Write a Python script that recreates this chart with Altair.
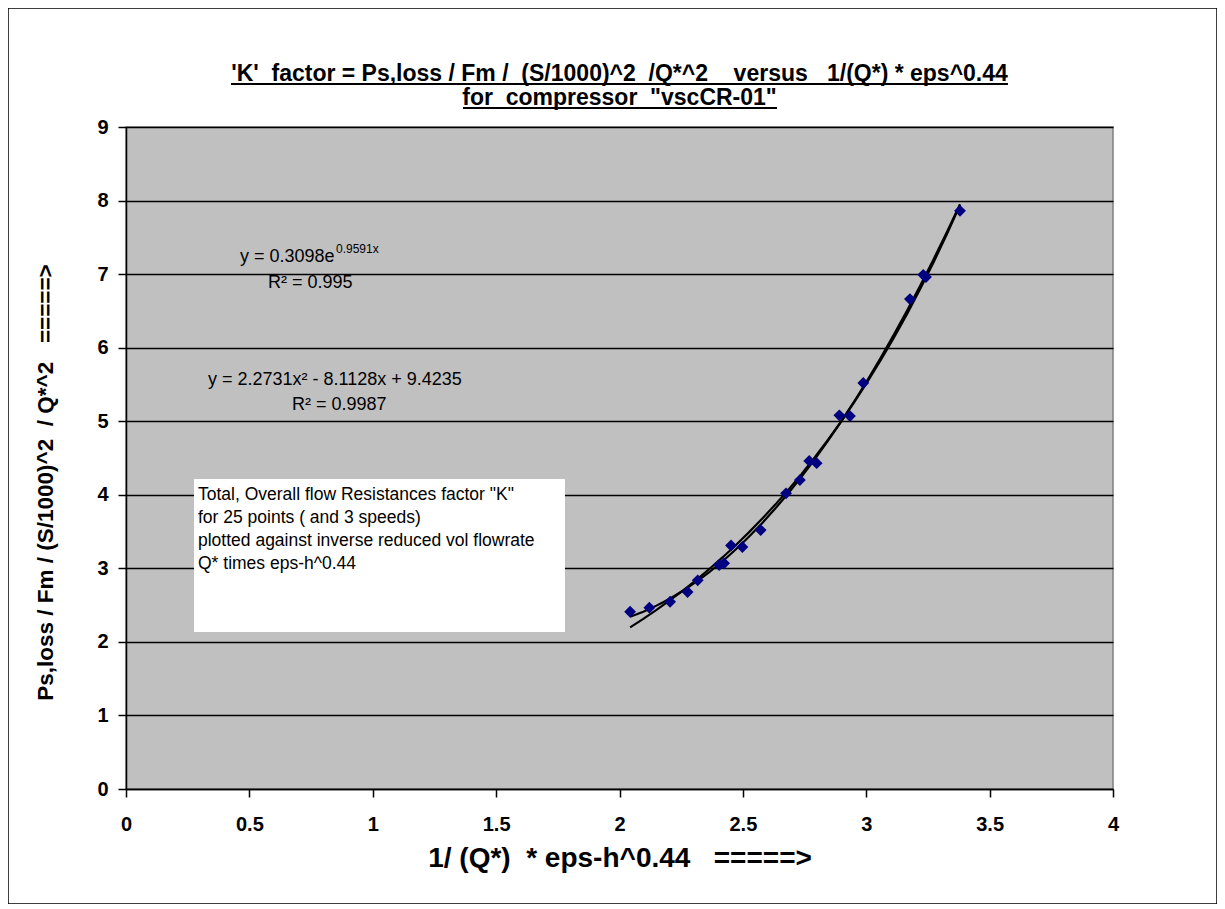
import altair as alt
import pandas as pd

# ---- data ----
k_x = [2.043, 2.121, 2.205, 2.276, 2.317, 2.404, 2.424, 2.452, 2.498, 2.572, 2.675,
       2.731, 2.769, 2.799, 2.891, 2.934, 2.988, 3.177, 3.231, 3.242, 3.380]
k_y = [2.41, 2.465, 2.546, 2.678, 2.837, 3.045, 3.068, 3.31, 3.29, 3.52, 4.02,
       4.20, 4.46, 4.43, 5.08, 5.07, 5.52, 6.66, 6.99, 6.96, 7.86]

x_ticks = [0, 0.5, 1, 1.5, 2, 2.5, 3, 3.5, 4]
y_ticks = [0, 1, 2, 3, 4, 5, 6, 7, 8, 9]

title_lines = ["'K'  factor = Ps,loss / Fm /  (S/1000)^2  /Q*^2    versus   1/(Q*) * eps^0.44",
               'for  compressor  "vscCR-01"']
x_title = "1/ (Q*)  * eps-h^0.44   =====>"
y_title = "Ps,loss / Fm / (S/1000)^2  / Q*^2   =====>"

box_lines = ['Total, Overall flow Resistances factor "K"',
             "for 25 points ( and 3 speeds)",
             "plotted against inverse reduced vol flowrate",
             "Q* times eps-h^0.44"]
# annotation box corners (data units)
box_x = [0.2756, 1.779]
box_y = [4.214, 2.134]

eq_text = ["y = 0.3098e", "R\u00b2 = 0.995", "y = 2.2731x\u00b2 - 8.1128x + 9.4235", "R\u00b2 = 0.9987"]
eq_x = [0.462, 0.5755, 0.332, 0.673]
eq_y = [7.232, 6.879, 5.56, 5.22]
sup_text = ["0.9591x"]

def nb(s):
    return s.replace(" ", "\u00a0")

FONT = "Liberation Sans, Arial, sans-serif"

W, H = 987, 662

df = pd.DataFrame({"x": k_x, "y": k_y})
one = pd.DataFrame({"a": [0]})

xs = alt.Scale(domain=[0, 4], nice=False, zero=False)
ys = alt.Scale(domain=[0, 9], nice=False, zero=False)

base = alt.Chart(df)

points = base.mark_point(shape="diamond", filled=True, color="#000080", size=140, opacity=1).encode(
    x=alt.X("x:Q", scale=xs, title=nb(x_title),
            axis=alt.Axis(values=x_ticks, format="~g", grid=False,
                          titleX=W / 2, titleY=69, titleBaseline="middle", titleAlign="center",
                          titleFontSize=28)),
    y=alt.Y("y:Q", scale=ys, title=nb(y_title),
            axis=alt.Axis(values=y_ticks, format="~g", grid=True,
                          titleX=-81, titleY=355, titleBaseline="middle", titleAlign="center",
                          titleFontSize=22.5)),
)

exp_line = base.transform_regression("x", "y", method="exp").mark_line(
    color="black", strokeWidth=2.2).encode(x=alt.X("x:Q", scale=xs), y=alt.Y("y:Q", scale=ys))
poly_line = base.transform_regression("x", "y", method="poly", order=2).mark_line(
    color="black", strokeWidth=2.2).encode(x=alt.X("x:Q", scale=xs), y=alt.Y("y:Q", scale=ys))

box_df = pd.DataFrame({"x": [box_x[0]], "x2": [box_x[1]], "y": [box_y[0]], "y2": [box_y[1]]})
box = alt.Chart(box_df).mark_rect(fill="white").encode(
    x=alt.X("x:Q", scale=xs), x2="x2", y=alt.Y("y:Q", scale=ys), y2="y2")

box_txt = alt.Chart(pd.DataFrame({"x": [0.2918], "y": [4.12]})).mark_text(
    align="left", baseline="top", font=FONT, fontSize=17.5, lineHeight=23, color="black").encode(
    x=alt.X("x:Q", scale=xs), y=alt.Y("y:Q", scale=ys), text=alt.value(box_lines))

eq_df = pd.DataFrame({"x": eq_x, "y": eq_y, "t": eq_text})
eqs = alt.Chart(eq_df).mark_text(align="left", baseline="middle", font=FONT, fontSize=18,
                                 color="black").encode(
    x=alt.X("x:Q", scale=xs), y=alt.Y("y:Q", scale=ys), text="t:N")

sup_df = pd.DataFrame({"x": [eq_x[0]], "y": [eq_y[0]], "t": sup_text})
sup = alt.Chart(sup_df).mark_text(align="left", baseline="middle", font=FONT, fontSize=12,
                                  dx=96, dy=-8, color="black").encode(
    x=alt.X("x:Q", scale=xs), y=alt.Y("y:Q", scale=ys), text="t:N")

frame = alt.Chart(one).mark_rect(fillOpacity=0, stroke="black", strokeWidth=1.5).encode(
    x=alt.value(-118), x2=alt.value(1091), y=alt.value(-119), y2=alt.value(777))

t1 = alt.Chart(one).mark_text(align="center", baseline="alphabetic", font=FONT, fontSize=23,
                              fontWeight="bold", color="black").encode(
    x=alt.value(W / 2), y=alt.value(-46), text=alt.value(nb(title_lines[0])))
t2 = alt.Chart(one).mark_text(align="center", baseline="alphabetic", font=FONT, fontSize=23,
                              fontWeight="bold", color="black").encode(
    x=alt.value(W / 2), y=alt.value(-22), text=alt.value(nb(title_lines[1])))

ul1 = alt.Chart(one).mark_rule(color="black", strokeWidth=2).encode(
    x=alt.value(105), x2=alt.value(882), y=alt.value(-43))
ul2 = alt.Chart(one).mark_rule(color="black", strokeWidth=2).encode(
    x=alt.value(337), x2=alt.value(651), y=alt.value(-19))

chart = alt.layer(frame, box, exp_line, poly_line, points, box_txt, eqs, sup,
                  t1, t2, ul1, ul2).properties(
    width=W, height=H,
    autosize=alt.AutoSizeParams(type="none"),
    padding={"left": 118, "top": 119, "right": 104, "bottom": 115},
).configure_view(
    fill="#C0C0C0", stroke="#808080", strokeWidth=1.5
).configure_axis(
    domainColor="black", domainWidth=1.5, tickColor="black", tickSize=8, tickWidth=1.5,
    gridColor="black", gridWidth=1.5, gridOpacity=1,
    labelFont=FONT, labelFontSize=20, labelFontWeight="bold", labelColor="black",
    titleFont=FONT, titleFontWeight="bold", titleColor="black",
).configure_axisX(labelPadding=17, labelFlush=False
).configure_axisY(labelPadding=10)

chart.save("out.html", embed_options={"renderer": "svg", "actions": False})
